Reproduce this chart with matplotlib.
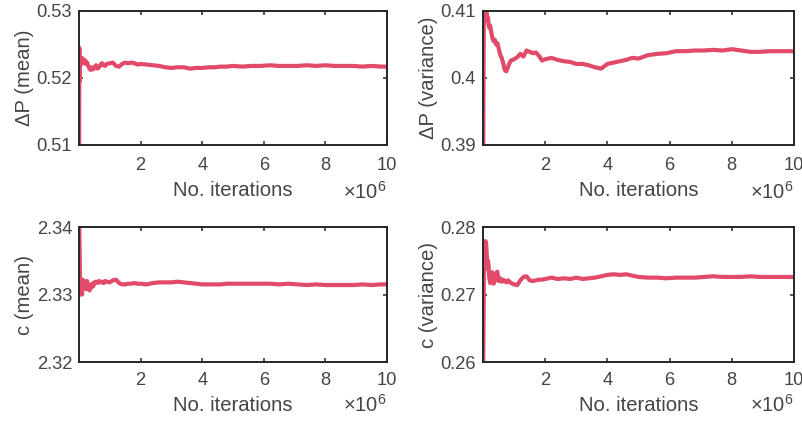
import matplotlib.pyplot as plt
from matplotlib.ticker import FixedLocator, FuncFormatter

plt.rcParams['font.family'] = ['Liberation Sans', 'DejaVu Sans']
plt.rcParams['mathtext.fontset'] = 'custom'
plt.rcParams['mathtext.rm'] = 'Liberation Sans'
plt.rcParams['mathtext.it'] = 'Liberation Sans:italic'

# iteraciones (en millones)
iters = [0.001, 0.01, 0.02, 0.03, 0.04, 0.05, 0.06, 0.08, 0.10, 0.12,
         0.14, 0.16, 0.18, 0.20, 0.23, 0.26, 0.30, 0.34, 0.38, 0.42,
         0.46, 0.50, 0.55, 0.60, 0.65, 0.70, 0.75, 0.80, 0.85, 0.90,
         1.0, 1.1, 1.2, 1.3, 1.4, 1.5, 1.6, 1.7, 1.8, 1.9,
         2.0, 2.2, 2.4, 2.6, 2.8, 3.0, 3.2, 3.4, 3.6, 3.8,
         4.0, 4.2, 4.4, 4.6, 4.8, 5.0, 5.3, 5.6, 5.9, 6.2,
         6.5, 6.8, 7.1, 7.4, 7.7, 8.0, 8.3, 8.6, 8.9, 9.2,
         9.5, 9.8, 10.0]

dp_mean = [0.5050, 0.5245, 0.5195, 0.5232, 0.5218, 0.5228, 0.5222, 0.5230, 0.5226, 0.5229,
           0.5224, 0.5227, 0.5222, 0.5226, 0.5221, 0.5223, 0.5218, 0.5214, 0.5212, 0.5216,
           0.5213, 0.5215, 0.5219, 0.5214, 0.5216, 0.5220, 0.5222, 0.5219, 0.5218, 0.5221,
           0.5222, 0.5223, 0.5218, 0.5217, 0.5221, 0.5223, 0.5222, 0.5223, 0.5222, 0.5220,
           0.5221, 0.5220, 0.5219, 0.5218, 0.5216, 0.5215, 0.5216, 0.5216, 0.5214, 0.5215,
           0.5215, 0.5216, 0.5216, 0.5217, 0.5217, 0.5218, 0.5217, 0.5218, 0.5218, 0.5219,
           0.5218, 0.5218, 0.5218, 0.5219, 0.5218, 0.5219, 0.5218, 0.5218, 0.5218, 0.5217,
           0.5218, 0.5217, 0.5217]

dp_var = [0.3850, 0.3920, 0.4050, 0.4095, 0.4085, 0.4105, 0.4092, 0.4100, 0.4088, 0.4097,
          0.4085, 0.4090, 0.4080, 0.4075, 0.4078, 0.4070, 0.4060, 0.4055, 0.4057, 0.4050,
          0.4052, 0.4045, 0.4035, 0.4030, 0.4022, 0.4012, 0.4010, 0.4016, 0.4022, 0.4026,
          0.4028, 0.4031, 0.4036, 0.4032, 0.4041, 0.4039, 0.4037, 0.4038, 0.4033, 0.4026,
          0.4028, 0.4030, 0.4027, 0.4025, 0.4024, 0.4021, 0.4021, 0.4019, 0.4016, 0.4014,
          0.4021, 0.4023, 0.4025, 0.4027, 0.4030, 0.4029, 0.4034, 0.4036, 0.4037, 0.4040,
          0.4040, 0.4041, 0.4041, 0.4042, 0.4041, 0.4043, 0.4041, 0.4039, 0.4039, 0.4040,
          0.4040, 0.4040, 0.4040]

c_mean = [2.3425, 2.3395, 2.3365, 2.3330, 2.3310, 2.3300, 2.3318, 2.3305, 2.3300, 2.3322,
          2.3312, 2.3320, 2.3310, 2.3316, 2.3308, 2.3320, 2.3312, 2.3306, 2.3310, 2.3316,
          2.3312, 2.3318, 2.3319, 2.3317, 2.3320, 2.3318, 2.3319, 2.3317, 2.3320, 2.3319,
          2.3318, 2.3321, 2.3322, 2.3317, 2.3315, 2.3315, 2.3316, 2.3316, 2.3317, 2.3316,
          2.3316, 2.3315, 2.3317, 2.3318, 2.3318, 2.3318, 2.3319, 2.3318, 2.3317, 2.3316,
          2.3315, 2.3315, 2.3315, 2.3315, 2.3316, 2.3316, 2.3316, 2.3316, 2.3316, 2.3316,
          2.3315, 2.3316, 2.3315, 2.3314, 2.3315, 2.3314, 2.3314, 2.3314, 2.3314, 2.3315,
          2.3314, 2.3315, 2.3315]

c_var = [0.2580, 0.2620, 0.2680, 0.2745, 0.2765, 0.2778, 0.2770, 0.2779, 0.2775, 0.2760,
         0.2738, 0.2750, 0.2742, 0.2725, 0.2717, 0.2728, 0.2733, 0.2716, 0.2722, 0.2730,
         0.2734, 0.2720, 0.2724, 0.2719, 0.2722, 0.2720, 0.2718, 0.2721, 0.2719, 0.2717,
         0.2715, 0.2714, 0.2721, 0.2726, 0.2727, 0.2721, 0.2720, 0.2721, 0.2722, 0.2722,
         0.2723, 0.2725, 0.2723, 0.2724, 0.2723, 0.2725, 0.2723, 0.2724, 0.2725, 0.2727,
         0.2729, 0.2730, 0.2729, 0.2730, 0.2728, 0.2726, 0.2725, 0.2725, 0.2724, 0.2725,
         0.2725, 0.2725, 0.2726, 0.2727, 0.2726, 0.2726, 0.2726, 0.2727, 0.2726, 0.2726,
         0.2726, 0.2726, 0.2726]

xticks = [2, 4, 6, 8, 10]

paneles = [
    (dp_mean, 'ΔP (mean)', [0.51, 0.52, 0.53]),
    (dp_var, 'ΔP (variance)', [0.39, 0.40, 0.41]),
    (c_mean, 'c (mean)', [2.32, 2.33, 2.34]),
    (c_var, 'c (variance)', [0.26, 0.27, 0.28]),
]

# posiciones de los ejes [left, bottom, width, height]
posiciones = [
    [0.0984, 0.6556, 0.3836, 0.3183],
    [0.6015, 0.6556, 0.3873, 0.3183],
    [0.0984, 0.1401, 0.3836, 0.3207],
    [0.6015, 0.1401, 0.3873, 0.3207],
]

# fila de arriba / fila de abajo: (pad ticks x, y del xlabel, y del x10^6)
ajustes = [(9, -0.27, -0.405), (9, -0.27, -0.405), (7, -0.25, -0.37), (7, -0.25, -0.37)]

color_linea = '#E24A6A'
color_texto = '#454545'
color_ejes = '#262626'

fig = plt.figure(figsize=(8.03, 4.21), dpi=100)

for (serie, etiqueta, yticks), pos, (pad_x, y_lab, y_exp) in zip(paneles, posiciones, ajustes):
    ax = fig.add_axes(pos)
    xs = [v * 1e6 for v in iters]
    ax.plot(xs, serie, color=color_linea, linewidth=3.0, solid_joinstyle='round')
    ax.set_xlim(1, 1e7)
    ax.set_ylim(yticks[0], yticks[-1])
    ax.xaxis.set_major_locator(FixedLocator([t * 1e6 for t in xticks]))
    ax.xaxis.set_major_formatter(FuncFormatter(lambda v, p: '%g' % (v / 1e6)))
    ax.yaxis.set_major_locator(FixedLocator(yticks))
    ax.yaxis.set_major_formatter(FuncFormatter(lambda v, p: '%g' % v))
    ax.tick_params(direction='in', top=True, right=True, length=3, width=1.1,
                   colors=color_ejes, labelcolor=color_texto, labelsize=13.2)
    ax.tick_params(axis='x', pad=pad_x)
    ax.tick_params(axis='y', pad=5)
    for s in ax.spines.values():
        s.set_linewidth(1.4)
        s.set_color(color_ejes)
    ax.set_xlabel('No. iterations', fontsize=14.6, color=color_texto)
    ax.set_ylabel(etiqueta, fontsize=14.6, color=color_texto)
    ax.xaxis.set_label_coords(0.5, y_lab)
    ax.yaxis.set_label_coords(-0.145, 0.5)
    ax.text(1.0, y_exp, '×10$^{6}$', transform=ax.transAxes, ha='right',
            va='baseline', fontsize=14.5, color=color_texto)

fig.savefig('out.png', dpi=100)
